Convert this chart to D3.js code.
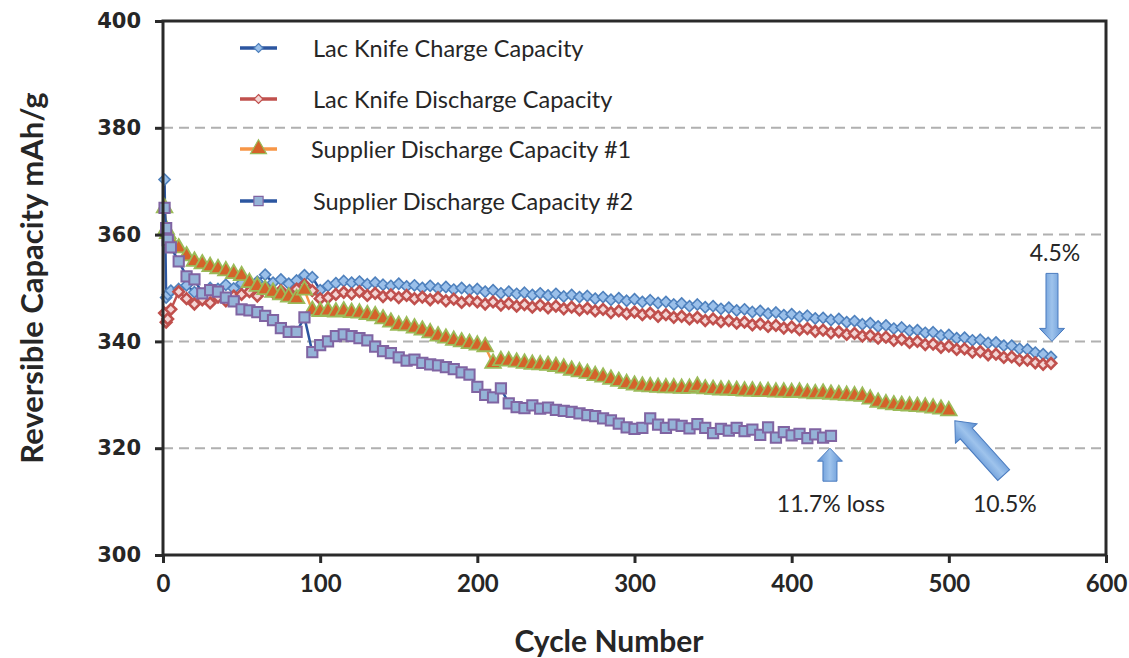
<!DOCTYPE html>
<html>
<head>
<meta charset="utf-8">
<script src="https://cdn.jsdelivr.net/npm/d3@7"></script>
<style>
  html, body { margin: 0; padding: 0; background: #fff; }
  svg { display: block; }
</style>
</head>
<body>
<svg id="chart" width="1129" height="658"></svg>
<script>
// ---------------- DATA ----------------
const seriesNames = [
  "Lac Knife Charge Capacity",
  "Lac Knife Discharge Capacity",
  "Supplier Discharge Capacity #1",
  "Supplier Discharge Capacity #2"
];

const lkCycles = [1, 2, 3].concat(d3.range(5, 566, 5));
const lkCharge = [370.3, 348.2, 348.8,
  349.5, 349.8, 350.5, 349.2, 348.6, 350.0, 349.8, 350.6, 349.9, 350.9,
  350.4, 351.2, 352.5, 351.0, 351.6, 350.8, 351.4, 352.4, 352.0, 349.6,
  350.4, 350.9, 351.3, 351.0, 351.2, 350.7, 351.0, 350.6, 350.4, 350.8,
  350.3, 350.5, 350.0, 350.4, 349.9, 350.2, 349.7, 350.0, 349.6, 349.8,
  349.3, 349.6, 349.0, 349.3, 348.9, 349.1, 348.7, 349.0, 348.6, 348.9,
  348.4, 348.7, 348.3, 348.5, 348.0, 348.3, 347.8, 348.1, 347.6, 347.9,
  347.4, 347.7, 347.2, 347.4, 346.9, 347.1, 346.6, 346.9, 346.4, 346.6,
  346.1, 346.3, 345.8, 346.0, 345.5, 345.7, 345.2, 345.4, 344.9, 345.1,
  344.6, 344.8, 344.3, 344.4, 344.0, 344.2, 343.6, 343.8, 343.2, 343.4,
  342.8, 343.0, 342.4, 342.6, 342.0, 342.1, 341.6, 341.7, 341.1, 341.2,
  340.6, 340.7, 340.2, 340.3, 339.7, 339.8, 339.2, 339.2, 338.6, 338.5,
  337.9, 337.6, 337.1];
const lkDischarge = [345.3, 343.6, 344.2,
  346.0, 349.3, 348.0, 347.0, 347.8, 347.2, 348.3, 347.6, 348.5, 348.8,
  349.3, 348.5, 350.0, 349.2, 349.5, 348.7, 349.8, 350.6, 349.5, 348.0,
  348.2, 348.8, 349.2, 348.9, 349.3, 348.6, 349.0, 348.4, 348.7, 348.2,
  348.6, 348.0, 348.3, 347.8, 348.2, 347.6, 347.9, 347.3, 347.7, 347.4,
  347.0, 347.4, 346.8, 347.1, 346.6, 346.9, 346.4, 346.8, 346.3, 346.6,
  346.1, 346.4, 345.9, 346.2, 345.7, 346.0, 345.4, 345.7, 345.2, 345.5,
  345.0, 345.3, 344.7, 345.0, 344.5, 344.7, 344.2, 344.5, 343.9, 344.2,
  343.7, 343.9, 343.4, 343.6, 343.1, 343.3, 342.8, 343.0, 342.5, 342.7,
  342.2, 342.4, 341.9, 342.1, 341.6, 341.8, 341.3, 341.5, 341.0, 341.1,
  340.6, 340.8, 340.2, 340.4, 339.8, 340.0, 339.4, 339.5, 338.9, 339.1,
  338.5, 338.6, 338.0, 338.1, 337.5, 337.6, 337.0, 337.1, 336.5, 336.5,
  336.0, 335.7, 335.9];

const s1Cycles = [1, 2, 3].concat(d3.range(5, 501, 5));
const supplier1 = [365.0, 361.0, 360.2,
  358.8, 357.5, 356.0, 355.0, 354.5, 354.0, 353.6, 353.2, 352.7, 352.3,
  351.0, 350.3, 349.7, 349.2, 348.7, 348.3, 348.0, 349.6, 345.8, 345.6,
  345.7, 345.5, 345.7, 345.4, 345.3, 345.0, 344.8, 344.2, 343.6, 343.0,
  342.9, 342.5, 342.1, 341.6, 341.0, 340.6, 340.2, 339.9, 339.6, 339.3,
  339.0, 335.9, 336.4, 336.3, 336.1, 335.9, 335.7, 335.6, 335.5, 335.3,
  335.0, 334.6, 334.3, 334.0, 333.6, 333.3, 332.9, 332.5, 332.1, 331.8,
  331.6, 331.5, 331.4, 331.3, 331.3, 331.2, 331.2, 331.6, 331.1, 331.0,
  330.9, 330.9, 330.8, 330.7, 330.7, 330.6, 330.6, 330.5, 330.5, 330.4,
  330.5, 330.3, 330.2, 330.3, 330.1, 330.0, 329.9, 329.8, 329.7, 329.2,
  328.6, 328.3, 328.1, 328.0, 327.9, 327.8, 327.7, 327.5, 327.3, 327.0];

const s2Cycles = [1, 2, 3].concat(d3.range(5, 426, 5));
const supplier2 = [365.0, 361.2, 359.0,
  357.6, 355.0, 352.2, 351.6, 349.0, 349.6, 349.3, 348.2, 347.5, 346.0,
  345.8, 345.5, 344.8, 344.0, 342.5, 341.8, 341.8, 344.5, 338.0, 339.3,
  340.0, 341.0, 341.3, 341.0, 340.6, 340.2, 339.0, 338.2, 337.8, 337.0,
  336.4, 336.6, 336.0, 335.7, 335.5, 335.2, 334.8, 334.2, 333.8, 331.5,
  330.0, 329.5, 331.2, 328.4, 327.7, 327.5, 328.0, 327.4, 327.6, 327.2,
  327.0, 326.8, 326.5, 326.2, 326.0, 325.6, 325.2, 324.6, 323.9, 323.6,
  323.8, 325.6, 324.4, 323.8, 324.4, 324.2, 323.7, 324.5, 323.8, 322.8,
  323.6, 323.3, 323.8, 323.2, 323.5, 322.5, 323.9, 322.0, 323.0, 322.4,
  322.7, 321.9, 322.6, 322.0, 322.3];

const xTicks = [0, 100, 200, 300, 400, 500, 600];
const yTicks = [300, 320, 340, 360, 380, 400];
const gridValues = [320, 340, 360, 380];
const annotationLabels = ["11.7% loss", "10.5%", "4.5%"];
const xTitle = "Cycle Number";
const yTitle = "Reversible Capacity mAh/g";

// ---------------- LAYOUT ----------------
const svg = d3.select("#chart");
const mLeft = 163, mRight = 1106, mTop = 21, mBottom = 555;
const x = d3.scaleLinear().domain([0, 600]).range([mLeft, mRight]);
const y = d3.scaleLinear().domain([300, 400]).range([mBottom, mTop]);

const textColor = "#262626";
const axisColor = "#2a2a2a";
const uiFont = "Lato, 'Open Sans', sans-serif";

const defs = svg.append("defs");
const grad = defs.append("linearGradient").attr("id", "arrowGrad")
  .attr("x1", "0").attr("x2", "1").attr("y1", "0").attr("y2", "0");
grad.append("stop").attr("offset", "0%").attr("stop-color", "#5b8fd2");
grad.append("stop").attr("offset", "50%").attr("stop-color", "#9ec3ec");
grad.append("stop").attr("offset", "100%").attr("stop-color", "#5b8fd2");

// square-ish diamond symbol (rotated square)
const symbolRhombus = {
  draw(ctx, size) {
    const r = Math.sqrt(size / 2);
    ctx.moveTo(0, -r); ctx.lineTo(r, 0); ctx.lineTo(0, r); ctx.lineTo(-r, 0); ctx.closePath();
  }
};

// gridlines
svg.append("g").selectAll("line").data(gridValues).join("line")
  .attr("x1", mLeft).attr("x2", mRight)
  .attr("y1", d => y(d)).attr("y2", d => y(d))
  .attr("stroke", "#b0b0b0").attr("stroke-width", 2)
  .attr("stroke-dasharray", "10,6");

// ---------------- SERIES ----------------
const series = [
  { name: seriesNames[0], cycles: lkCycles, values: lkCharge,
    line: "#2c56a0", symbol: symbolRhombus, size: 62, fill: "#9bc0ea", stroke: "#4f81bd", sw: 1.6 },
  { name: seriesNames[1], cycles: lkCycles, values: lkDischarge,
    line: "#c0504d", symbol: symbolRhombus, size: 56, fill: "#f4d6d5", stroke: "#c0504d", sw: 2.6 },
  { name: seriesNames[2], cycles: s1Cycles, values: supplier1,
    line: "#f79646", symbol: d3.symbolTriangle, size: 105, fill: "#d4622a", stroke: "#9bbb59", sw: 1.8 },
  { name: seriesNames[3], cycles: s2Cycles, values: supplier2,
    line: "#2c56a0", symbol: d3.symbolSquare, size: 105, fill: "#95b3d7", stroke: "#8064a2", sw: 2 }
];

series.forEach(s => {
  const pts = s.cycles.map((c, i) => [c, s.values[i]]);
  const g = svg.append("g");
  g.append("path").datum(pts)
    .attr("fill", "none").attr("stroke", s.line).attr("stroke-width", 2.5)
    .attr("d", d3.line().x(d => x(d[0])).y(d => y(d[1])));
  g.selectAll("path.m").data(pts).join("path").attr("class", "m")
    .attr("transform", d => `translate(${x(d[0])},${y(d[1])})`)
    .attr("d", d3.symbol().type(s.symbol).size(s.size))
    .attr("fill", s.fill).attr("stroke", s.stroke).attr("stroke-width", s.sw);
});

// ---------------- AXES / FRAME ----------------
svg.append("rect")
  .attr("x", mLeft).attr("y", mTop).attr("width", mRight - mLeft).attr("height", mBottom - mTop)
  .attr("fill", "none").attr("stroke", axisColor).attr("stroke-width", 3);

const yAxis = d3.axisLeft(y).tickValues(yTicks).tickSize(8).tickPadding(14);
const gy = svg.append("g").attr("transform", `translate(${mLeft},0)`).call(yAxis);
gy.select(".domain").remove();
gy.selectAll(".tick line").attr("stroke", axisColor).attr("stroke-width", 3);
gy.selectAll(".tick text").attr("fill", textColor)
  .style("font-family", "'DejaVu Sans', Verdana, sans-serif")
  .style("font-weight", "bold").style("font-size", "21px");

const xAxis = d3.axisBottom(x).tickValues(xTicks).tickSize(8).tickPadding(12);
const gx = svg.append("g").attr("transform", `translate(0,${mBottom})`).call(xAxis);
gx.select(".domain").remove();
gx.selectAll(".tick line").attr("stroke", axisColor).attr("stroke-width", 3);
gx.selectAll(".tick text").attr("fill", textColor)
  .style("font-family", uiFont)
  .style("font-weight", "bold").style("font-size", "24px");

svg.append("text")
  .attr("x", 609).attr("y", 652)
  .attr("text-anchor", "middle").attr("fill", textColor)
  .style("font-family", uiFont)
  .style("font-weight", "bold").style("font-size", "30px")
  .text(xTitle);

svg.append("text")
  .attr("transform", `translate(43,278) rotate(-90)`)
  .attr("text-anchor", "middle").attr("fill", textColor)
  .style("font-family", uiFont)
  .style("font-weight", "bold").style("font-size", "31px")
  .text(yTitle);

// ---------------- LEGEND ----------------
const legendRows = [48, 99, 149, 201];
const lg = svg.append("g");
series.forEach((s, i) => {
  const ry = legendRows[i];
  lg.append("line").attr("x1", 240).attr("x2", 277).attr("y1", ry).attr("y2", ry)
    .attr("stroke", s.line).attr("stroke-width", 3.5);
  lg.append("path").attr("transform", `translate(258.5,${ry})`)
    .attr("d", d3.symbol().type(s.symbol).size(i === 2 ? 110 : (i === 3 ? 85 : 40)))
    .attr("fill", s.fill).attr("stroke", s.stroke).attr("stroke-width", 1.2);
  lg.append("text").attr("x", i === 2 ? 311 : 313).attr("y", ry + 9)
    .attr("fill", textColor)
    .style("font-family", uiFont).style("font-size", "23.5px")
    .text(s.name);
});

// ---------------- ANNOTATION ARROWS ----------------
function arrowPath(len, shaftW, headW, headL) {
  const p = [[0, 0], [headW / 2, headL], [shaftW / 2, headL], [shaftW / 2, len],
             [-shaftW / 2, len], [-shaftW / 2, headL], [-headW / 2, headL]];
  return "M" + p.map(q => q.join(",")).join("L") + "Z";
}
function drawArrow(tx, ty, angle, len, shaftW, headW, headL) {
  svg.append("path")
    .attr("transform", `translate(${tx},${ty}) rotate(${angle})`)
    .attr("d", arrowPath(len, shaftW, headW, headL))
    .attr("fill", "url(#arrowGrad)").attr("stroke", "#4a7bbf").attr("stroke-width", 1);
}
const s2Last = s2Cycles.length - 1;
const s1Last = s1Cycles.length - 1;
const lkLast = lkCycles.length - 1;

drawArrow(x(s2Cycles[s2Last]) - 1, y(320), 0, 33, 14, 25, 13);
drawArrow(x(s1Cycles[s1Last]) + 6, y(supplier1[s1Last]) + 10, -42, 73, 16, 29, 17);
drawArrow(x(lkCycles[lkLast]) + 1, y(340), 180, 68, 12, 25, 13);

const annStyle = sel => sel.attr("fill", textColor).attr("text-anchor", "middle")
  .style("font-family", uiFont).style("font-size", "23px");
svg.append("text").attr("x", x(s2Cycles[s2Last])).attr("y", 512).call(annStyle).text(annotationLabels[0]);
svg.append("text").attr("x", x(s1Cycles[s1Last]) + 56).attr("y", 512).call(annStyle).text(annotationLabels[1]);
svg.append("text").attr("x", x(lkCycles[lkLast]) + 4).attr("y", 261).call(annStyle).text(annotationLabels[2]);
</script>
</body>
</html>
